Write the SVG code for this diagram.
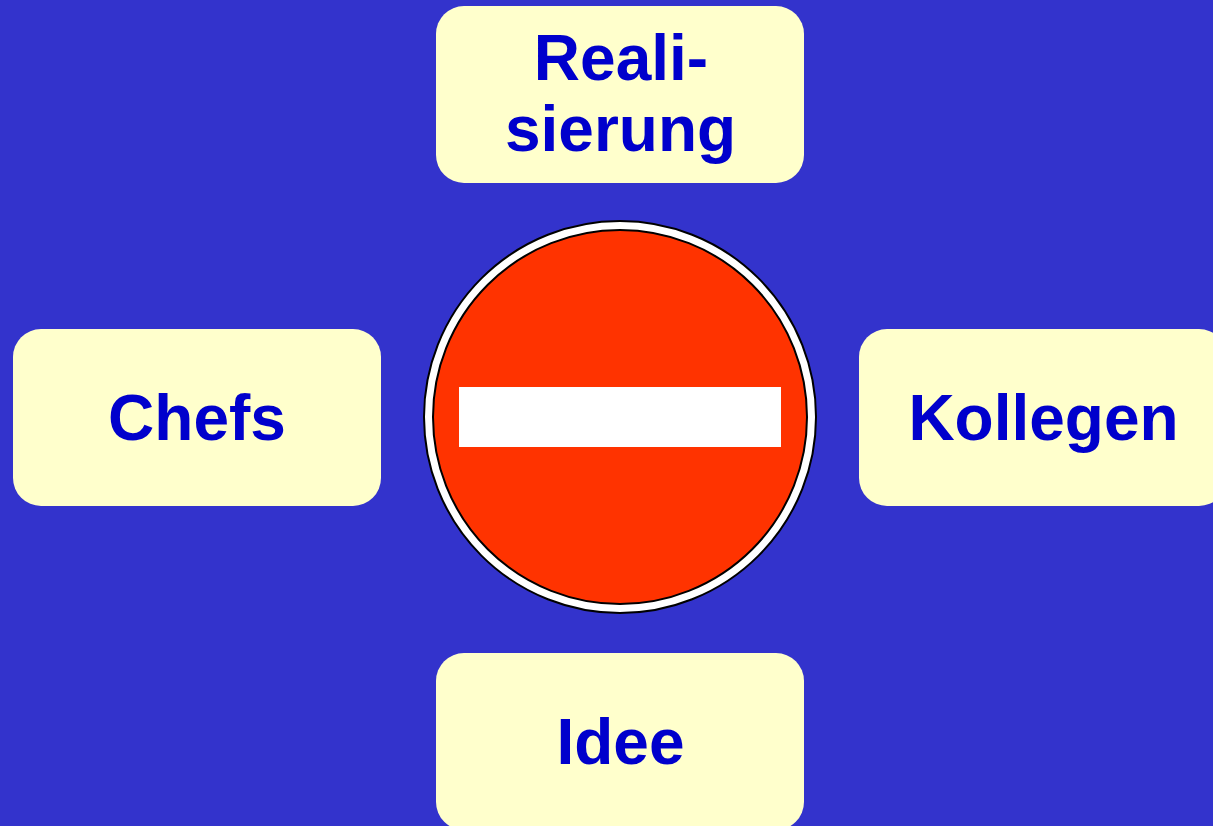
<svg xmlns="http://www.w3.org/2000/svg" width="1213" height="826" viewBox="0 0 1213 826">
<style>
.box{fill:#ffffcc}
.t{font-family:"Liberation Sans",Arial,sans-serif;font-weight:bold;font-size:64px;fill:#0000cc;text-anchor:middle}
</style>
<rect width="1213" height="826" fill="#3333cc"/>
<g id="sign">
<circle cx="620" cy="417" r="196" fill="#fff" stroke="#000" stroke-width="2"/>
<circle cx="620" cy="417" r="187" fill="#ff3300" stroke="#000" stroke-width="2"/>
<rect x="459" y="387" width="322" height="60" fill="#fff"/>
</g>
<g id="realisierung"><rect class="box" x="436" y="6" width="368" height="177" rx="28"/>
<text class="t" x="621" y="80">Reali-</text><text class="t" x="620.500" y="151">sierung</text></g>
<g id="chefs"><rect class="box" x="13" y="329" width="368" height="177" rx="28"/>
<text class="t" x="197" y="440">Chefs</text></g>
<g id="kollegen"><rect class="box" x="859" y="329" width="368" height="177" rx="28"/>
<text class="t" x="1043.500" y="440">Kollegen</text></g>
<g id="idee"><rect class="box" x="436" y="653" width="368" height="177" rx="28"/>
<text class="t" x="620.500" y="764">Idee</text></g>
<g id="connectors"/>
</svg>
